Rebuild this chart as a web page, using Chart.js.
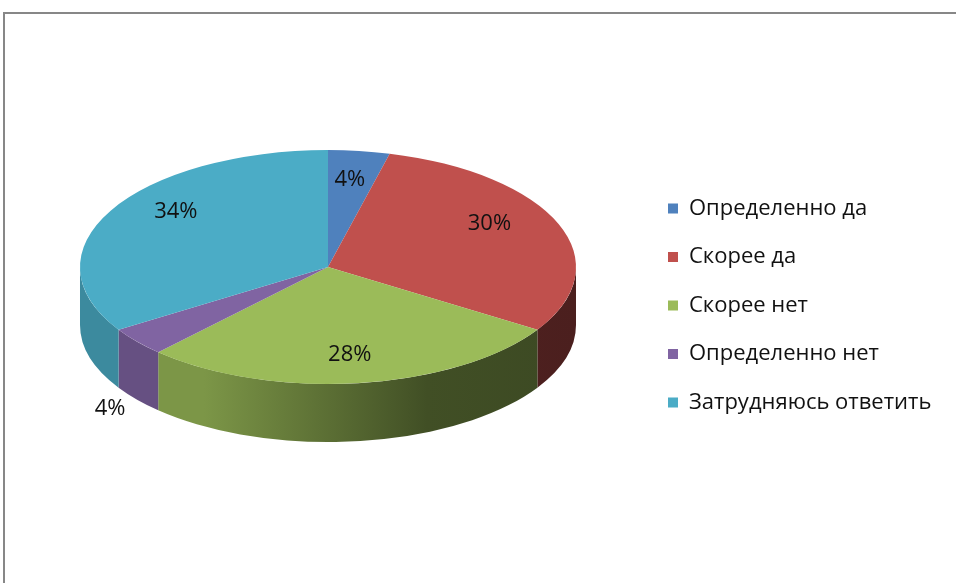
<!DOCTYPE html>
<html><head><meta charset="utf-8">
<script src="https://cdn.jsdelivr.net/npm/chart.js@4.4.0/dist/chart.umd.min.js"></script>
<style>
html,body{margin:0;padding:0;background:#fff;overflow:hidden;}
#wrap{position:relative;width:956px;height:583px;}
#frame{position:absolute;left:3px;top:12px;width:960px;height:580px;border-top:2px solid #878787;border-left:2px solid #878787;pointer-events:none;}
canvas{position:absolute;left:0;top:0;}
</style></head><body>
<div id="wrap"><canvas id="c" width="956" height="583"></canvas><div id="frame"></div></div>
<script>
// ---- data ----
const categories = ['Определенно да', 'Скорее да', 'Скорее нет', 'Определенно нет', 'Затрудняюсь ответить'];
const shares = [4, 30, 28, 4, 34];
const colors = ['#4F81BD', '#C0504D', '#9BBB59', '#8064A2', '#4BACC6'];

// ---- layout / style ----
const FONT = '"Open Sans", Roboto, "Liberation Sans", sans-serif';
const LEGEND_FONT_SIZE = 22;
const LABEL_FONT_SIZE = 22;
const LEGEND_PAD = 26.5;
const LEGEND_LEFT = 678 - LEGEND_PAD;
const TILT = {cx: 328, cy: 267, rx: 248, ry: 117, depth: 58};

function shade(hex, f) {
  const n = parseInt(hex.slice(1), 16);
  const r = (n >> 16) & 255, g = (n >> 8) & 255, b = n & 255;
  return `rgb(${Math.round(r * f)},${Math.round(g * f)},${Math.round(b * f)})`;
}

const mctx = document.createElement('canvas').getContext('2d');
mctx.font = `${LEGEND_FONT_SIZE}px ${FONT}`;
const maxTextW = Math.max(...categories.map(t => mctx.measureText(t).width));
const legendW = LEGEND_PAD + 10 + LEGEND_FONT_SIZE / 2 + maxTextW;
const padRight = Math.max(0, 956 - LEGEND_LEFT - legendW);

const tiltPlugin = {
  id: 'tilt3d',
  beforeDatasetsDraw(chart) {
    const ctx = chart.ctx;
    const meta = chart.getDatasetMeta(0);
    const a0 = meta.data[0];
    const R = a0.outerRadius, x = a0.x, y = a0.y;
    const sx = TILT.rx / R, sy = TILT.ry / R;
    ctx.save();
    ctx.translate(TILT.cx, TILT.cy);
    ctx.scale(sx, sy);
    ctx.translate(-x, -y);
    const dP = TILT.depth / sy;
    meta.data.forEach((arc, i) => {
      const a1 = Math.max(arc.startAngle, 0);
      const a2 = Math.min(arc.endAngle, Math.PI);
      if (a2 <= a1) return;
      const g = ctx.createLinearGradient(x - R, 0, x + R, 0);
      g.addColorStop(0, shade(colors[i], 0.80));
      g.addColorStop(0.25, shade(colors[i], 0.80));
      g.addColorStop(0.7, shade(colors[i], 0.42));
      g.addColorStop(1, shade(colors[i], 0.39));
      ctx.beginPath();
      ctx.arc(x, y, R, a1, a2);
      ctx.arc(x, y + dP, R, a2, a1, true);
      ctx.closePath();
      ctx.fillStyle = g;
      ctx.fill();
    });
  },
  afterDatasetsDraw(chart) {
    const ctx = chart.ctx;
    ctx.restore();
    const meta = chart.getDatasetMeta(0);
    const total = shares.reduce((a, b) => a + b, 0);
    ctx.save();
    ctx.font = `${LABEL_FONT_SIZE}px ${FONT}`;
    ctx.fillStyle = '#111';
    ctx.textAlign = 'center';
    ctx.textBaseline = 'middle';
    meta.data.forEach((arc, i) => {
      const mid = (arc.startAngle + arc.endAngle) / 2;
      const pct = shares[i] / total;
      const c = Math.cos(mid), s = Math.sin(mid);
      const outside = pct < 0.05 && s > 0;
      let px, py;
      if (outside) {
        px = TILT.cx + 1.14 * TILT.rx * c;
        py = TILT.cy + 1.12 * TILT.ry * s + TILT.depth;
      } else {
        px = TILT.cx + 0.7 * TILT.rx * c;
        py = TILT.cy + (0.75 + 0.3 * c * c) * TILT.ry * s;
      }
      ctx.fillText(Math.round(pct * 100) + '%', px, py);
    });
    ctx.restore();
  }
};

new Chart(document.getElementById('c'), {
  type: 'pie',
  data: {
    labels: categories,
    datasets: [{
      data: shares,
      backgroundColor: colors,
      borderWidth: 0,
      clip: false
    }]
  },
  options: {
    responsive: false,
    animation: false,
    events: [],
    layout: {padding: {left: 0, top: 0, right: padRight, bottom: 143}},
    plugins: {
      tooltip: {enabled: false},
      legend: {
        position: 'right',
        align: 'end',
        labels: {
          boxWidth: 10,
          boxHeight: 10,
          padding: LEGEND_PAD,
          color: '#111',
          font: {family: FONT, size: LEGEND_FONT_SIZE}
        }
      }
    }
  },
  plugins: [tiltPlugin]
});
</script>
</body></html>
